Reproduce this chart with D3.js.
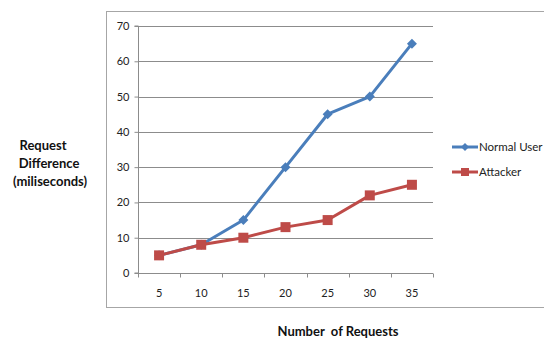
<!DOCTYPE html>
<html>
<head>
<meta charset="utf-8">
<script src="https://cdn.jsdelivr.net/npm/d3@7"></script>
<style>
  html, body { margin: 0; padding: 0; background: #fff; }
  svg { display: block; font-family: Lato, "Open Sans", sans-serif; }
</style>
</head>
<body>
<svg id="chart" width="544" height="340"></svg>
<script>
// Request counts along the x axis
const categories = [5, 10, 15, 20, 25, 30, 35];
// Request difference in milliseconds per series
const normalUser = [5, 8, 15, 30, 45, 50, 65];
const attacker = [5, 8, 10, 13, 15, 22, 25];
const yTicks = [0, 10, 20, 30, 40, 50, 60, 70];
const seriesNames = ["Normal User", "Attacker"];
const seriesColors = ["#4a7ebb", "#be4b48"];

const svg = d3.select("#chart");

// outer chart frame
svg.append("rect")
  .attr("x", 106.5).attr("y", 11.5)
  .attr("width", 460).attr("height", 296)
  .attr("fill", "none").attr("stroke", "#a6a6a6").attr("stroke-width", 1);

const plot = { left: 138, right: 433, top: 26, bottom: 273 };

const x = d3.scaleBand().domain(categories).range([plot.left, plot.right]);
const y = d3.scaleLinear().domain([0, 70]).range([plot.bottom, plot.top]);

// horizontal gridlines
svg.append("g")
  .selectAll("line")
  .data(yTicks.filter(d => d > 0))
  .join("line")
  .attr("x1", plot.left).attr("x2", plot.right)
  .attr("y1", d => Math.round(y(d)) + 0.5).attr("y2", d => Math.round(y(d)) + 0.5)
  .attr("stroke", "#8c8c8c").attr("stroke-width", 1);

// y axis
const yAxis = svg.append("g")
  .attr("transform", `translate(${plot.left + 0.5},0)`)
  .call(d3.axisLeft(y).tickValues(yTicks).tickSize(4).tickPadding(5).tickFormat(d3.format("d")));
yAxis.select(".domain").attr("stroke", "#8c8c8c").attr("d", `M-4,${Math.round(y(0))}H0V${Math.round(y(70))}H-4`);
yAxis.selectAll(".tick line").attr("stroke", "#8c8c8c");
yAxis.selectAll("text").attr("font-size", 11).attr("fill", "#222").attr("font-family", "Lato, sans-serif");

// x axis with ticks on category boundaries
const xAxisG = svg.append("g")
  .attr("transform", `translate(0,${Math.round(y(0)) + 0.5})`);
xAxisG.append("line")
  .attr("x1", plot.left).attr("x2", plot.right)
  .attr("stroke", "#8c8c8c");
const bounds = categories.map(c => x(c)).concat([x(categories[categories.length - 1]) + x.bandwidth()]);
xAxisG.selectAll("line.tk")
  .data(bounds)
  .join("line").attr("class", "tk")
  .attr("x1", d => Math.round(d) + 0.5).attr("x2", d => Math.round(d) + 0.5)
  .attr("y1", 0).attr("y2", 4)
  .attr("stroke", "#8c8c8c");
xAxisG.selectAll("text")
  .data(categories)
  .join("text")
  .attr("x", d => x(d) + x.bandwidth() / 2)
  .attr("y", 23)
  .attr("text-anchor", "middle")
  .attr("font-size", 11).attr("fill", "#222")
  .text(d => d);

const line = d3.line()
  .x((d, i) => x(categories[i]) + x.bandwidth() / 2)
  .y(d => y(d));

const seriesData = [normalUser, attacker];

seriesData.forEach((vals, si) => {
  const g = svg.append("g");
  g.append("path")
    .datum(vals)
    .attr("d", line)
    .attr("fill", "none")
    .attr("stroke", seriesColors[si])
    .attr("stroke-width", 3)
    .attr("stroke-linejoin", "round");
  const pts = g.selectAll("path.m")
    .data(vals)
    .join("path").attr("class", "m")
    .attr("transform", (d, i) => `translate(${x(categories[i]) + x.bandwidth() / 2},${y(d)})`)
    .attr("fill", seriesColors[si]);
  if (si === 0) {
    pts.attr("d", "M0,-5L5,0L0,5L-5,0Z");
  } else {
    pts.attr("d", "M-5,-5H5V5H-5Z");
  }
});

// legend
const legend = svg.append("g");
seriesNames.forEach((name, i) => {
  const ly = 147 + i * 25;
  legend.append("line")
    .attr("x1", 452).attr("x2", 478).attr("y1", ly).attr("y2", ly)
    .attr("stroke", seriesColors[i]).attr("stroke-width", 3);
  legend.append("path")
    .attr("transform", `translate(465,${ly})`)
    .attr("d", i === 0 ? "M0,-4L4,0L0,4L-4,0Z" : "M-4,-4H4V4H-4Z")
    .attr("fill", seriesColors[i]);
  legend.append("text")
    .attr("x", 479).attr("y", ly + 4)
    .attr("font-size", 11.5).attr("fill", "#222")
    .text(name);
});

// y axis title
const yTitle = ["Request", "Difference", "(miliseconds)"];
const yTitleX = [43, 49, 50];
svg.append("text")
  .attr("font-size", 13).attr("font-weight", "bold").attr("fill", "#111")
  .attr("text-anchor", "middle")
  .selectAll("tspan")
  .data(yTitle)
  .join("tspan")
  .attr("x", (d, i) => yTitleX[i])
  .attr("y", (d, i) => 150 + i * 18)
  .text(d => d);

// x axis title
svg.append("text")
  .attr("x", 338).attr("y", 336)
  .attr("text-anchor", "middle")
  .attr("font-size", 13).attr("font-weight", "bold").attr("fill", "#111")
  .attr("xml:space", "preserve")
  .text("Number  of Requests");
</script>
</body>
</html>
